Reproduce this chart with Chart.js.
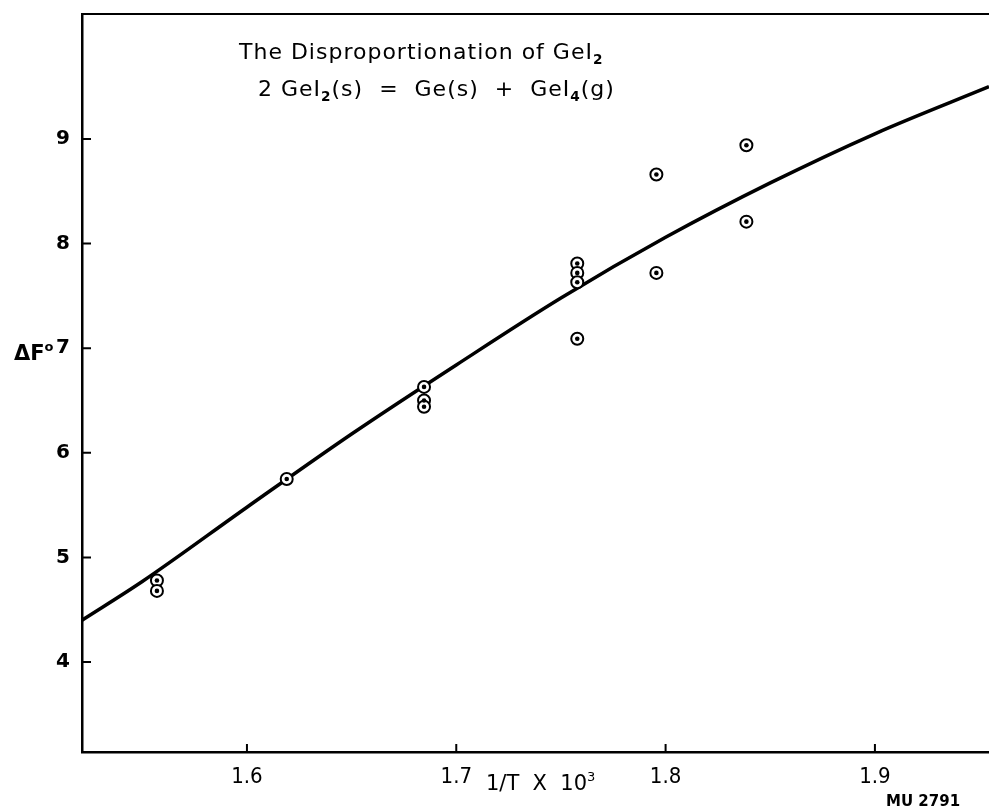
<!DOCTYPE html>
<html>
<head>
<meta charset="utf-8">
<script src="https://cdn.jsdelivr.net/npm/chart.js@4.4.1/dist/chart.umd.min.js"></script>
<style>
  html, body { margin: 0; padding: 0; background: #fff; }
  canvas { display: block; }
</style>
</head>
<body>
<canvas id="chart" width="989" height="809"></canvas>
<script>
// measured points, 1/T x 10^3 against delta F
const pointX = [1.557, 1.557, 1.619, 1.6846, 1.6846, 1.6846, 1.7578, 1.7578, 1.7578, 1.7578, 1.7956, 1.7956, 1.8386, 1.8386]
const pointY = [4.78, 4.68, 5.75, 6.63, 6.50, 6.44, 7.81, 7.72, 7.63, 7.09, 8.66, 7.72, 8.94, 8.21]

// the drawn curve
const curveX = [1.5212, 1.55, 1.60, 1.65, 1.70, 1.75, 1.80, 1.85, 1.90, 1.9545]
const curveY = [4.40, 4.77, 5.48, 6.18, 6.84, 7.48, 8.06, 8.58, 9.05, 9.50]

const xTicks = [1.6, 1.7, 1.8, 1.9]
const yTicks = [4, 5, 6, 7, 8, 9]

const points = pointX.map((x, i) => ({x: x, y: pointY[i]}))
const curve = curveX.map((x, i) => ({x: x, y: curveY[i]}))

const FONT = "'DejaVu Sans', sans-serif"

// text with sub / superscripts
function drawParts(ctx, parts, x, y, size){
    parts.forEach(function(p){
        let s = size, dy = 0
        if(p[1] == "sub"){ s = size * 0.62; dy = size * 0.22 }
        if(p[1] == "sup"){ s = size * 0.62; dy = -size * 0.42 }
        ctx.font = (p[2] || "") + " " + s + "px " + FONT
        ctx.fillText(p[0], x, y + dy)
        x += ctx.measureText(p[0]).width
    })
}

const decor = {
    id: "decor",
    afterDraw(chart){
        const ctx = chart.ctx
        const a = chart.chartArea
        const xs = chart.scales.x
        const ys = chart.scales.y

        ctx.save()
        ctx.strokeStyle = "#000"
        ctx.lineWidth = 2
        ctx.beginPath()
        ctx.moveTo(a.left, a.top)
        ctx.lineTo(a.right, a.top)
        // ticks point inward
        xTicks.forEach(function(v){
            const px = xs.getPixelForValue(v)
            ctx.moveTo(px, a.bottom)
            ctx.lineTo(px, a.bottom - 8)
        })
        yTicks.forEach(function(v){
            const py = ys.getPixelForValue(v)
            ctx.moveTo(a.left, py)
            ctx.lineTo(a.left + 9, py)
        })
        ctx.stroke()

        ctx.fillStyle = "#000"
        ctx.textAlign = "left"
        ctx.textBaseline = "alphabetic"
        ctx.letterSpacing = "1px"

        drawParts(ctx, [["The Disproportionation of GeI"], ["2", "sub", "bold"]], 239, 59, 22)
        drawParts(ctx, [["2 GeI"], ["2", "sub", "bold"], ["(s)  =  Ge(s)  +  GeI"], ["4", "sub", "bold"], ["(g)"]], 258, 96, 22)

        ctx.letterSpacing = "0px"
        drawParts(ctx, [["ΔF", "", "bold"], ["o", "sup", "bold"]], 14, 360, 21)
        drawParts(ctx, [["1/T  X  10"], ["3", "sup"]], 486, 790, 21)
        drawParts(ctx, [["MU 2791", "", "bold"]], 886, 806, 15)
        ctx.restore()
    }
}

new Chart(document.getElementById("chart"), {
    type: "scatter",
    data: {
        datasets: [
            {
                label: "dots",
                data: points,
                pointRadius: 2.3,
                pointBackgroundColor: "#000",
                pointBorderWidth: 0,
                order: 0
            },
            {
                label: "rings",
                data: points,
                pointRadius: 6,
                pointBackgroundColor: "#fff",
                pointBorderColor: "#000",
                pointBorderWidth: 2,
                order: 1
            },
            {
                type: "line",
                label: "curve",
                data: curve,
                borderColor: "#000",
                borderWidth: 3.5,
                pointRadius: 0,
                tension: 0.4,
                cubicInterpolationMode: "monotone",
                fill: false,
                order: 2
            }
        ]
    },
    options: {
        responsive: false,
        animation: false,
        devicePixelRatio: 1,
        layout: { autoPadding: false, padding: { top: 14, left: 0, right: 0, bottom: 0 } },
        plugins: {
            legend: { display: false },
            tooltip: { enabled: false }
        },
        scales: {
            x: {
                type: "linear",
                min: 1.5212,
                max: 1.9545,
                afterBuildTicks: function(s){ s.ticks = xTicks.map(v => ({value: v})) },
                afterFit: function(s){ s.height = 57; s.paddingLeft = 0; s.paddingRight = 0 },
                grid: { display: false, drawTicks: false },
                border: { display: true, color: "#000", width: 2.5 },
                ticks: {
                    color: "#000",
                    padding: 12,
                    maxRotation: 0,
                    font: { family: "'DejaVu Sans Condensed', 'DejaVu Sans', sans-serif", size: 22 },
                    callback: v => v.toFixed(1)
                }
            },
            y: {
                type: "linear",
                min: 3.14,
                max: 10.195,
                afterBuildTicks: function(s){ s.ticks = yTicks.map(v => ({value: v})) },
                afterFit: function(s){ s.width = 82; s.paddingTop = 0; s.paddingBottom = 0 },
                grid: { display: false, drawTicks: false },
                border: { display: true, color: "#000", width: 2.5 },
                ticks: {
                    color: "#000",
                    padding: 12,
                    font: { family: FONT, size: 20, weight: "bold" },
                    callback: v => String(v)
                }
            }
        }
    },
    plugins: [decor]
})
</script>
</body>
</html>
